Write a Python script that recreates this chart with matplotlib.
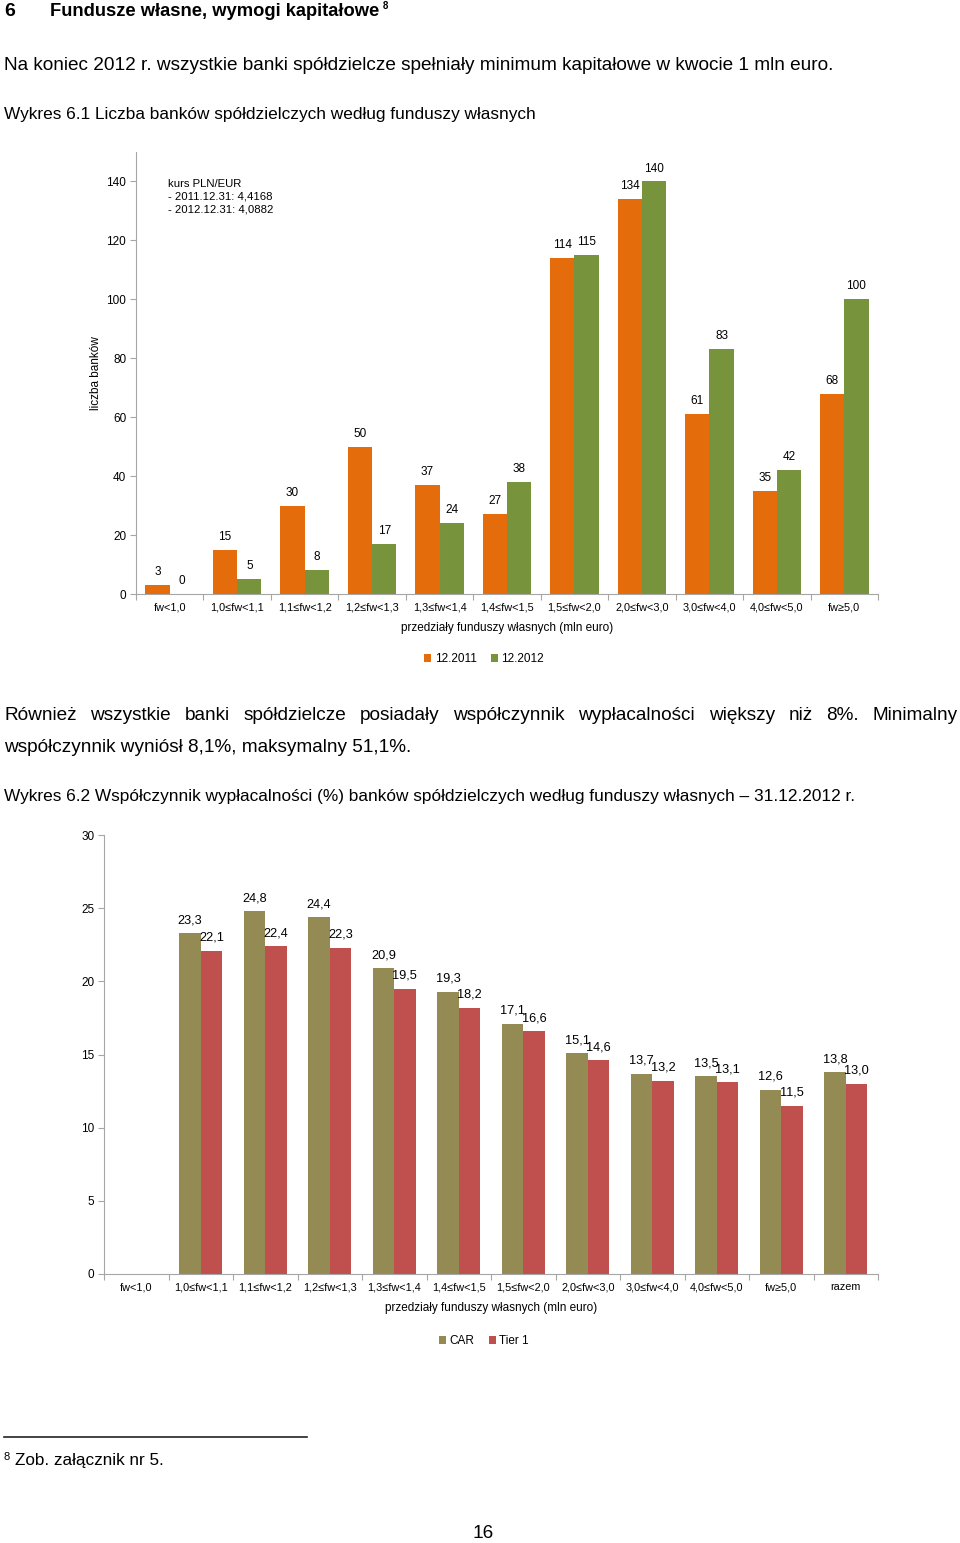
import matplotlib
matplotlib.use('Agg')
import matplotlib.pyplot as plt
from matplotlib.lines import Line2D
import numpy as np

plt.rcParams['font.family'] = ['Liberation Sans Narrow', 'Liberation Sans', 'DejaVu Sans']

# dane - wykres 6.1
przedzialy = ['fw<1,0', '1,0≤fw<1,1', '1,1≤fw<1,2', '1,2≤fw<1,3', '1,3≤fw<1,4', '1,4≤fw<1,5',
              '1,5≤fw<2,0', '2,0≤fw<3,0', '3,0≤fw<4,0', '4,0≤fw<5,0', 'fw≥5,0']
banki_2011 = [3, 15, 30, 50, 37, 27, 114, 134, 61, 35, 68]
banki_2012 = [0, 5, 8, 17, 24, 38, 115, 140, 83, 42, 100]

# dane - wykres 6.2
przedzialy2 = przedzialy + ['razem']
car = [np.nan, 23.3, 24.8, 24.4, 20.9, 19.3, 17.1, 15.1, 13.7, 13.5, 12.6, 13.8]
tier1 = [np.nan, 22.1, 22.4, 22.3, 19.5, 18.2, 16.6, 14.6, 13.2, 13.1, 11.5, 13.0]

ORANGE = '#E46C0A'
GREEN = '#77933C'
TAN = '#948A54'
RED = '#C0504D'
AXIS = '#A6A6A6'

W, H = 960, 1543
fig = plt.figure(figsize=(W / 100, H / 100), dpi=100)
r = fig.canvas.get_renderer()


def page_text(x, y, s, size=12, width=None, **kw):
    t = fig.text(x / W, 1 - y / H, s, fontsize=size, va='center', ha='left', **kw)
    if width:
        w = t.get_window_extent(r).width
        t.set_fontsize(size * width / w)
    return t


def justify(words, x0, x1, y, size):
    ts = [fig.text(0, 1 - y / H, s, fontsize=size, va='center', ha='left') for s in words]
    widths = [t.get_window_extent(r).width for t in ts]
    gap = (x1 - x0 - sum(widths)) / (len(words) - 1)
    x = x0
    for t, w in zip(ts, widths):
        t.set_x(x / W)
        x += w + gap


# tekst strony
page_text(4, 11, '6', size=14, fontweight='bold')
page_text(50, 11, 'Fundusze własne, wymogi kapitałowe', size=14, width=331, fontweight='bold')
page_text(383, 6, '8', size=7, fontweight='bold')
page_text(4, 65, 'Na koniec 2012 r. wszystkie banki spółdzielcze spełniały minimum kapitałowe w kwocie 1 mln euro.',
          width=834)
page_text(4, 115, 'Wykres 6.1 Liczba banków spółdzielczych według funduszy własnych', width=531)
body = page_text(4, 747, 'współczynnik wyniósł 8,1%, maksymalny 51,1%.', width=408).get_fontsize()
justify('Również wszystkie banki spółdzielcze posiadały współczynnik wypłacalności większy niż 8%. Minimalny'.split(),
        4, 958, 716, body)
page_text(4, 797, 'Wykres 6.2 Współczynnik wypłacalności (%) banków spółdzielczych według funduszy własnych – 31.12.2012 r.',
          width=851)

fig.add_artist(Line2D([4 / W, 307 / W], [1 - 1437 / H] * 2, color='#222222', lw=1.2))
page_text(3, 1457, '8', size=8)
page_text(15, 1461, 'Zob. załącznik nr 5.', width=148)
fig.text(483 / W, 1 - 1533 / H, '16', fontsize=body, ha='center', va='center')


def styl(ax, n):
    for s in ['top', 'right']:
        ax.spines[s].set_visible(False)
    for s in ['left', 'bottom']:
        ax.spines[s].set_color(AXIS)
    ax.set_xlim(-0.5, n - 0.5)
    ax.set_xticks(np.arange(-0.5, n, 1))
    ax.set_xticklabels([])
    ax.tick_params(axis='x', which='major', length=4, color=AXIS, direction='out')
    ax.tick_params(axis='x', which='minor', length=0, pad=6, labelsize=7.8)
    ax.tick_params(axis='y', length=4, color=AXIS, pad=3, labelsize=8.5)


# wykres 6.1
ax1 = fig.add_axes([136 / W, 1 - 594 / H, (878 - 136) / W, (594 - 152) / H])
x = np.arange(len(przedzialy))
bw = 0.36
b1 = ax1.bar(x - bw / 2, banki_2011, bw, color=ORANGE, label='12.2011')
b2 = ax1.bar(x + bw / 2, banki_2012, bw, color=GREEN, label='12.2012')
ax1.bar_label(b1, padding=5, fontsize=8.5)
ax1.bar_label(b2, padding=5, fontsize=8.5)
styl(ax1, len(przedzialy))
ax1.set_xticks(x, przedzialy, minor=True)
ax1.set_ylim(0, 150)
ax1.set_yticks(range(0, 141, 20))
ax1.set_ylabel('liczba banków', fontsize=8.5)
ax1.yaxis.set_label_coords((102 - 136) / 742, 0.5)
ax1.set_xlabel('przedziały funduszy własnych (mln euro)', fontsize=8.5)
ax1.xaxis.set_label_coords(0.5, (594 - 622) / 442)
ax1.text((168 - 136) / 742, (594 - 179) / 442, 'kurs PLN/EUR\n- 2011.12.31: 4,4168\n- 2012.12.31: 4,0882',
         transform=ax1.transAxes, fontsize=8.2, va='top', ha='left', linespacing=1.35)
ax1.legend(loc='center', bbox_to_anchor=(484 / W, 1 - 659 / H), bbox_transform=fig.transFigure,
           ncol=2, frameon=False, fontsize=8.5, handlelength=0.6, handleheight=0.6,
           handletextpad=0.3, columnspacing=1.2)

# wykres 6.2
ax2 = fig.add_axes([104 / W, 1 - 1274 / H, (878 - 104) / W, (1274 - 835) / H])
x2 = np.arange(len(przedzialy2))
bw2 = 0.33
c1 = ax2.bar(x2 - bw2 / 2, car, bw2, color=TAN, label='CAR')
c2 = ax2.bar(x2 + bw2 / 2, tier1, bw2, color=RED, label='Tier 1')
fmt = lambda v: '' if np.isnan(v) else f'{v:.1f}'.replace('.', ',')
ax2.bar_label(c1, labels=[fmt(v) for v in car], padding=5, fontsize=9.2)
ax2.bar_label(c2, labels=[fmt(v) for v in tier1], padding=5, fontsize=9.2)
styl(ax2, len(przedzialy2))
ax2.set_xticks(x2, przedzialy2, minor=True)
ax2.set_ylim(0, 30)
ax2.set_yticks(range(0, 31, 5))
ax2.set_xlabel('przedziały funduszy własnych (mln euro)', fontsize=8.5)
ax2.xaxis.set_label_coords(0.5, (1274 - 1302) / 439)
ax2.legend(loc='center', bbox_to_anchor=(484 / W, 1 - 1341 / H), bbox_transform=fig.transFigure,
           ncol=2, frameon=False, fontsize=8.5, handlelength=0.6, handleheight=0.6,
           handletextpad=0.3, columnspacing=1.2)

fig.savefig('out.png', dpi=100)
